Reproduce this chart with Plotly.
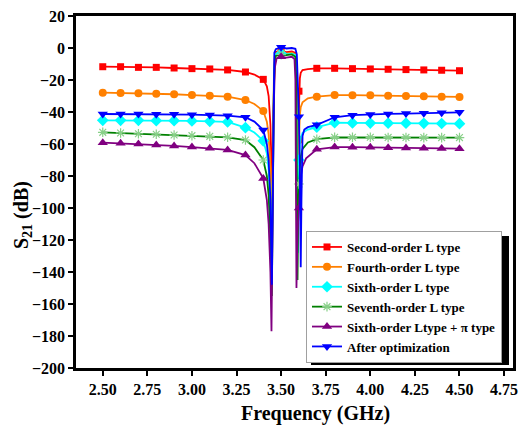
import plotly.graph_objects as go

# ---------------- data ----------------
marker_step = 0.1  # markers drawn every 0.1 GHz

red_freq = [2.5, 2.6, 2.7, 2.8, 2.9, 3.0, 3.1, 3.2, 3.3, 3.35, 3.4, 3.42, 3.43, 3.44, 3.445, 3.45,
            3.455, 3.46, 3.465, 3.47, 3.5, 3.53, 3.56, 3.58, 3.585, 3.59, 3.595, 3.598, 3.6,
            3.605, 3.61, 3.62, 3.65, 3.7, 3.8, 3.9, 4.0, 4.1, 4.2, 4.3, 4.4, 4.5]
red_s21 = [-11.7, -11.7, -12.1, -12.1, -12.5, -12.9, -13.1, -13.7, -15.0, -16.6, -19.6, -24, -30, -48, -70, -100,
           -45, -12, -4, -2.5, -2.0, -2.6, -2.2, -3.0, -8, -35, -92, -45, -27,
           -19, -15.5, -13.8, -13.2, -12.7, -12.7, -12.9, -13.1, -13.3, -13.5, -13.7, -13.9, -14.2]

orange_freq = [2.5, 2.6, 2.7, 2.8, 2.9, 3.0, 3.1, 3.2, 3.3, 3.35, 3.4, 3.42, 3.43, 3.44, 3.447,
               3.453, 3.46, 3.465, 3.47, 3.5, 3.53, 3.56, 3.58, 3.585, 3.59, 3.594, 3.597, 3.6,
               3.605, 3.61, 3.62, 3.65, 3.7, 3.8, 3.9, 4.0, 4.1, 4.2, 4.3, 4.4, 4.5]
orange_s21 = [-27.9, -28.1, -28.3, -28.6, -28.9, -29.4, -29.8, -30.4, -32.5, -35.0, -39.4, -46, -54, -75, -122,
              -60, -14, -5, -3.5, -3.0, -3.5, -3.0, -4.0, -12, -50, -112, -75, -57.5,
              -42, -37, -34, -31.5, -30.4, -29.4, -29.5, -29.6, -29.8, -30.0, -30.2, -30.4, -30.6]

cyan_freq = orange_freq
cyan_s21 = [-45.2, -45.2, -45.2, -45.4, -45.4, -45.6, -45.8, -46.2, -49.8, -52.8, -58.0, -66, -76, -100, -138,
            -70, -18, -6, -4, -3.5, -4.0, -3.5, -4.5, -15, -60, -128, -90, -70,
            -60, -56, -53, -51, -49.5, -46.7, -46.8, -46.9, -47.0, -47.0, -47.1, -47.2, -47.3]

green_freq = [2.5, 2.6, 2.7, 2.8, 2.9, 3.0, 3.1, 3.2, 3.3, 3.35, 3.4, 3.42, 3.43, 3.44, 3.448,
              3.454, 3.46, 3.465, 3.47, 3.5, 3.53, 3.56, 3.58, 3.585, 3.588, 3.592, 3.596, 3.6,
              3.605, 3.61, 3.62, 3.65, 3.7, 3.8, 3.9, 4.0, 4.1, 4.2, 4.3, 4.4, 4.5]
green_s21 = [-52.7, -53.1, -53.6, -53.9, -54.4, -54.8, -55.2, -55.8, -57.5, -62.0, -70.0, -80, -92, -120, -155,
             -80, -22, -8, -5, -4.0, -4.5, -4.0, -5.5, -20, -70, -145, -100, -85,
             -75, -68, -63, -59, -57, -55.8, -55.8, -55.8, -55.9, -55.9, -56.0, -56.0, -56.0]

purple_freq = [2.5, 2.6, 2.7, 2.8, 2.9, 3.0, 3.1, 3.2, 3.3, 3.35, 3.4, 3.42, 3.43, 3.44, 3.446,
               3.452, 3.458, 3.465, 3.475, 3.5, 3.53, 3.56, 3.575, 3.58, 3.583, 3.586, 3.592, 3.6,
               3.61, 3.62, 3.64, 3.7, 3.8, 3.9, 4.0, 4.1, 4.2, 4.3, 4.4, 4.5]
purple_s21 = [-59.2, -59.6, -60.0, -60.6, -61.2, -61.9, -62.7, -63.7, -66.9, -72, -81.5, -95, -110, -140, -177,
              -110, -40, -12, -6.5, -5.5, -6.0, -5.5, -7.0, -20, -80, -150, -115, -100,
              -80, -74, -69, -63.3, -61.9, -62.0, -62.1, -62.3, -62.5, -62.6, -62.8, -62.9]

blue_freq = [2.5, 2.6, 2.7, 2.8, 2.9, 3.0, 3.1, 3.2, 3.3, 3.35, 3.4, 3.42, 3.43, 3.44, 3.448,
             3.454, 3.458, 3.462, 3.47, 3.5, 3.53, 3.56, 3.58, 3.588, 3.593, 3.6,
             3.605, 3.61, 3.614, 3.62, 3.63, 3.65, 3.7, 3.8, 3.9, 4.0, 4.1, 4.2, 4.3, 4.4, 4.5]
blue_s21 = [-41.25, -41.25, -41.25, -41.4, -41.4, -41.7, -41.9, -42.3, -43.3, -46.0, -51.25, -60, -70, -95, -148,
            -60, -10, -3, -0.8, 0.5, -0.3, 0.0, -0.5, -4, -20, -43,
            -75, -137, -95, -55, -51, -49.5, -48, -43.3, -42, -41.5, -41.2, -41.0, -40.8, -40.5, -40.2]

series_names = ["Second-order L type", "Fourth-order L type", "Sixth-order L type",
                "Seventh-order L type", "Sixth-order Ltype + \u03c0 type", "After optimization"]

x_tick_vals = [2.50, 2.75, 3.00, 3.25, 3.50, 3.75, 4.00, 4.25, 4.50, 4.75]
y_tick_vals = [20, 0, -20, -40, -60, -80, -100, -120, -140, -160, -180, -200]

# ---------------- styles ----------------
styles = [
    dict(line="#ff0000", mcolor="#ff0000", symbol="square", size=7),
    dict(line="#ff8000", mcolor="#ff8000", symbol="circle", size=8),
    dict(line="#00ffff", mcolor="#00ffff", symbol="diamond", size=9),
    dict(line="#008000", mcolor="#88d088", symbol="asterisk-open", size=8),
    dict(line="#800080", mcolor="#800080", symbol="triangle-up", size=9),
    dict(line="#0000ff", mcolor="#0000ff", symbol="triangle-down", size=9),
]
data = [(red_freq, red_s21), (orange_freq, orange_s21), (cyan_freq, cyan_s21),
        (green_freq, green_s21), (purple_freq, purple_s21), (blue_freq, blue_s21)]

FONT = "Liberation Serif"
fig = go.Figure()

def marker_dict(st):
    m = dict(color=st["mcolor"], symbol=st["symbol"], size=st["size"], line=dict(width=0))
    if st["symbol"].endswith("open"):
        m["line"] = dict(width=1.2, color=st["mcolor"])
    return m

for name, (f, s), st in zip(series_names, data, styles):
    fig.add_trace(go.Scatter(x=f, y=s, mode="lines", line=dict(color=st["line"], width=1.8),
                             showlegend=False, hoverinfo="skip"))
    mx, my = [], []
    for xv, yv in zip(f, s):
        k = xv / marker_step
        if abs(k - round(k)) < 1e-6:
            mx.append(xv)
            my.append(yv)
    fig.add_trace(go.Scatter(x=mx, y=my, mode="markers", marker=marker_dict(st),
                             showlegend=False, hoverinfo="skip"))
    fig.add_trace(go.Scatter(x=[None], y=[None], mode="lines+markers", name=name,
                             line=dict(color=st["line"], width=1.8), marker=marker_dict(st)))

L, R, T, B = 76, 8, 16, 61
W, H = 521, 429
pw, ph = W - L - R, H - T - B

def px(x):
    return (x - L) / pw

def py(y):
    return (H - B - y) / ph

# legend geometry (pixels) and its drop shadow
LEG_X, LEG_Y = 306, 231
LEG_W, LEG_H = 197, 128
fig.add_shape(type="rect", xref="paper", yref="paper",
              x0=px(LEG_X + 5), x1=px(LEG_X + LEG_W + 6),
              y0=py(LEG_Y + LEG_H + 6), y1=py(LEG_Y + 5),
              fillcolor="black", line=dict(width=0), layer="above")

axis_common = dict(showline=True, linecolor="black", linewidth=2.5, mirror=True,
                   ticks="outside", ticklen=5, tickwidth=2, tickcolor="black",
                   showgrid=False, zeroline=False, automargin=False,
                   tickfont=dict(family=FONT, size=16, color="black", weight="bold"))

title_font = dict(family=FONT, size=20, color="black", weight="bold")
fig.add_annotation(text="Frequency (GHz)", xref="paper", yref="paper",
                   x=px(315), y=py(413), xanchor="center", yanchor="middle",
                   showarrow=False, font=title_font)
fig.add_annotation(text="S<sub>21</sub> (dB)", xref="paper", yref="paper",
                   x=px(22), y=py(215), xanchor="center", yanchor="middle",
                   textangle=-90, showarrow=False, font=title_font)

fig.update_layout(
    width=W, height=H,
    margin=dict(l=L, r=R, t=T, b=B),
    paper_bgcolor="white", plot_bgcolor="white",
    xaxis=dict(range=[2.35, 4.80], tickvals=x_tick_vals,
               ticktext=[f"{v:.2f}" for v in x_tick_vals], **axis_common),
    yaxis=dict(range=[-200, 20], tickvals=y_tick_vals, **axis_common),
    legend=dict(x=px(LEG_X), y=py(LEG_Y), xanchor="left", yanchor="top",
                bgcolor="white", bordercolor="#a0a0a0", borderwidth=1,
                font=dict(family=FONT, size=13, color="black", weight="bold"),
                tracegroupgap=0, itemwidth=30),
    showlegend=True,
)

fig.write_html("out.html", config={"displayModeBar": False},
               post_script="document.body.style.margin='0';document.body.style.padding='0';")
